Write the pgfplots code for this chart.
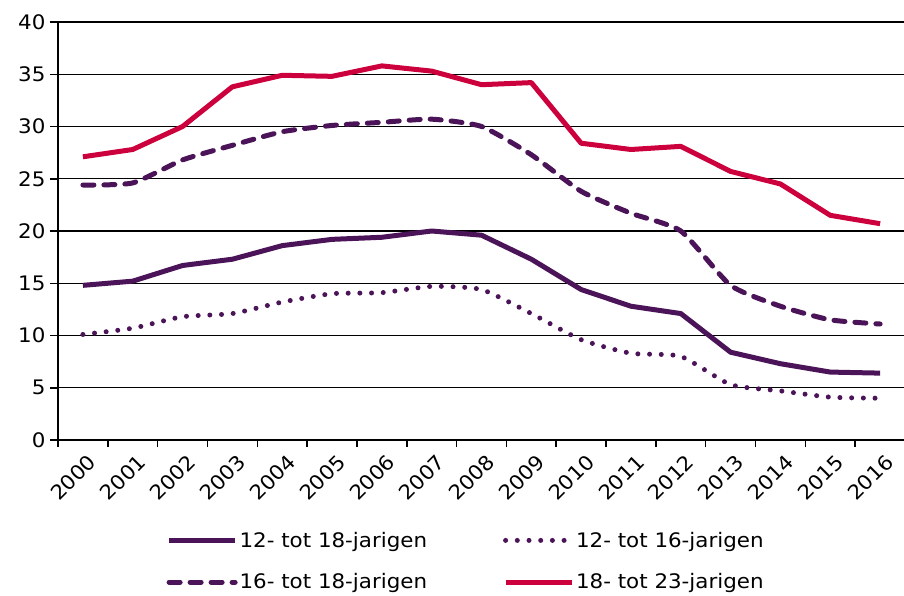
\documentclass[border=0pt]{standalone}
\usepackage{fontspec}
\setmainfont{DejaVu Sans}[FakeStretch=1.07]
\usepackage{pgfplots}
\pgfplotsset{compat=1.18}
\definecolor{paars}{RGB}{76,20,88}
\definecolor{rood}{RGB}{204,0,60}
\newcommand\f{\fontsize{20bp}{24bp}\selectfont}
\begin{document}
\begin{tikzpicture}
\path[use as bounding box] (-58bp,-156bp) rectangle (846bp,440bp);
\begin{axis}[
  scale only axis, width=847bp, height=418bp,
  xmin=-0.5, xmax=16.5, ymin=0, ymax=40,
  axis x line=bottom, axis y line=left,
  axis line style={-, line width=1.5bp, black},
  x axis line style={-}, y axis line style={-},
  ytick={0,5,...,40},
  ymajorgrids, major grid style={line width=1.3bp, black},
  xtick={0,...,16},
  xticklabels={2000,2001,2002,2003,2004,2005,2006,2007,2008,2009,2010,2011,2012,2013,2014,2015,2016},
  minor xtick={-0.5,0.5,...,16.5},
  tick align=outside,
  major tick length=8bp, minor tick length=7bp,
  x tick style={draw=none},
  minor x tick style={draw=black, line width=1.5bp},
  y tick style={line width=1.5bp, black},
  /pgf/number format/assume math mode=true,
  tick label style={font=\f},
  yticklabel style={xshift=-1bp},
  xticklabel style={rotate=45, anchor=east, yshift=-14bp, xshift=3bp},
  clip=false,
  legend columns=2,
  legend style={draw=none, font=\f, at={(0.128,-0.215)}, anchor=north west, inner sep=0pt,
    /tikz/every even column/.append style={column sep=74bp},
    row sep=21bp},
  legend cell align=left,
  legend image code/.code={\draw[#1] (0bp,0bp) -- (66bp,0bp);},
]
\addplot[paars, line width=5bp, line join=round] coordinates {
(0,14.8) (1,15.2) (2,16.7) (3,17.3) (4,18.6) (5,19.2) (6,19.4) (7,20.0) (8,19.6) (9,17.3) (10,14.4) (11,12.8) (12,12.1) (13,8.4) (14,7.3) (15,6.5) (16,6.4)};
\addlegendentry{12- tot 18-jarigen}
\addplot[paars, line width=5bp, line cap=round, dash pattern=on 0bp off 11.7bp, smooth, tension=0.35] coordinates {
(0,10.1) (1,10.7) (2,11.8) (3,12.1) (4,13.2) (5,14.0) (6,14.1) (7,14.7) (8,14.4) (9,12.1) (10,9.6) (11,8.3) (12,8.0) (13,5.3) (14,4.7) (15,4.1) (16,4.0)};
\addlegendentry{12- tot 16-jarigen}
\addplot[paars, line width=5bp, line cap=round, dash pattern=on 11bp off 10bp, smooth, tension=0.35] coordinates {
(0,24.4) (1,24.6) (2,26.8) (3,28.2) (4,29.5) (5,30.1) (6,30.4) (7,30.7) (8,30.0) (9,27.3) (10,23.8) (11,21.7) (12,20.0) (13,14.8) (14,12.8) (15,11.5) (16,11.1)};
\addlegendentry{16- tot 18-jarigen}
\addplot[rood, line width=5bp, line join=round] coordinates {
(0,27.1) (1,27.8) (2,30.0) (3,33.8) (4,34.9) (5,34.8) (6,35.8) (7,35.3) (8,34.0) (9,34.2) (10,28.4) (11,27.8) (12,28.1) (13,25.7) (14,24.5) (15,21.5) (16,20.7)};
\addlegendentry{18- tot 23-jarigen}
\end{axis}
\end{tikzpicture}
\end{document}
